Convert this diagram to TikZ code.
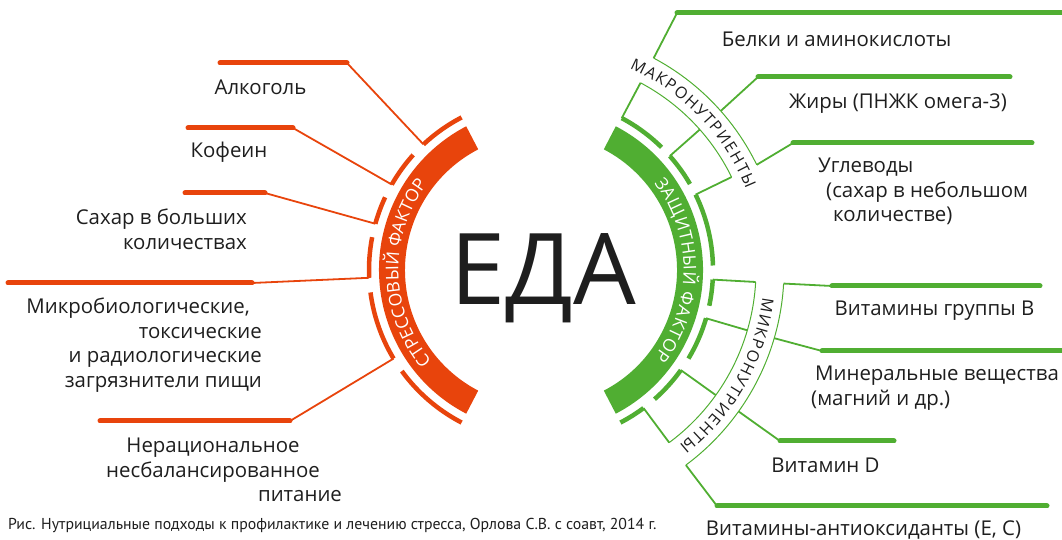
\documentclass[tikz,border=0pt]{standalone}
\usepackage{fontspec}
\setmainfont{Open Sans}
\newfontfamily\capfont{PT Sans}
\usetikzlibrary{decorations.text}

\definecolor{stressred}{RGB}{232,68,12}
\definecolor{foodgreen}{RGB}{80,174,50}
\definecolor{inkgray}{RGB}{30,30,30}

\tikzset{
	foodtext/.style={inner sep=0pt,text=inkgray,font=\fontsize{20.4}{24.6}\selectfont},
	redbar/.style={stressred,line width=5pt,line cap=round},
	greenbar/.style={foodgreen,line width=5pt,line cap=round},
	redlink/.style={stressred,line width=1.8pt},
	greenlink/.style={foodgreen,line width=1.8pt},
	redseg/.style={stressred,line width=4.5pt},
	greenseg/.style={foodgreen,line width=4.5pt},
	bracketarc/.style={foodgreen,line width=1pt},
}

\begin{document}
\begin{tikzpicture}[x=1pt,y=1pt]
	\useasboundingbox (0,0) rectangle (1062,540);
	\coordinate (C) at (541,270);

	% thick bands
	\fill[stressred] ([shift={(117.5:136pt)}]C) arc[start angle=117.5,end angle=242.5,radius=136pt] -- ([shift={(242.5:162pt)}]C) arc[start angle=242.5,end angle=117.5,radius=162pt] -- cycle;
	\fill[foodgreen] ([shift={(-62.5:136pt)}]C) arc[start angle=-62.5,end angle=62.5,radius=136pt] -- ([shift={(62.5:162pt)}]C) arc[start angle=62.5,end angle=-62.5,radius=162pt] -- cycle;

	\path[decorate,decoration={text along path,text color=white,text align={fit to path},text={|\fontsize{17.5}{17.5}\selectfont|СТРЕССОВЫЙ ФАКТОР}}] ([shift={(220:142.6pt)}]C) arc[start angle=220,end angle=143,radius=142.6pt];
	\path[decorate,decoration={text along path,text color=white,text align={fit to path},text={|\fontsize{17.5}{17.5}\selectfont|ЗАЩИТНЫЙ ФАКТОР}}] ([shift={(37.5:142.6pt)}]C) arc[start angle=37.5,end angle=-37.5,radius=142.6pt];

	\node[inner sep=0pt,anchor=base,text=inkgray,font=\fontsize{99}{99}\selectfont] (eda) at (543,235) {ЕДА};

	% red side
	\draw[redseg] ([shift={(117.5:172pt)}]C) arc[start angle=117.5,end angle=133.1,radius=172pt];
	\draw[redseg] ([shift={(138:172pt)}]C) arc[start angle=138,end angle=150.2,radius=172pt];
	\draw[redseg] ([shift={(155:172pt)}]C) arc[start angle=155,end angle=164.4,radius=172pt];
	\draw[redseg] ([shift={(169:172pt)}]C) arc[start angle=169,end angle=182.6,radius=172pt];
	\draw[redseg] ([shift={(187.5:172pt)}]C) arc[start angle=187.5,end angle=211,radius=172pt];
	\draw[redseg] ([shift={(216:172pt)}]C) arc[start angle=216,end angle=242.5,radius=172pt];

	\coordinate (ra) at ([shift={(133.1:172pt)}]C);
	\coordinate (rb) at ([shift={(150.2:172pt)}]C);
	\coordinate (rc) at ([shift={(164.4:172pt)}]C);
	\coordinate (rd) at ([shift={(182.6:172pt)}]C);
	\coordinate (re) at ([shift={(211:172pt)}]C);

	\coordinate (ba) at (347,477);
	\coordinate (bb) at (293,412);
	\coordinate (bc) at (265,347);
	\coordinate (bd) at (252,257);
	\coordinate (be) at (290,119);

	\coordinate (la) at (220,477);
	\coordinate (lb) at (188,412);
	\coordinate (lc) at (185,347);
	\coordinate (ld) at (8,257);
	\coordinate (le) at (100,119);

	\draw[redlink] (ra) -- (ba);
	\draw[redlink] (rb) -- (bb);
	\draw[redlink] (rc) -- (bc);
	\draw[redlink] (rd) -- (bd);
	\draw[redlink] (re) -- (be);

	\draw[redbar] (ba) -- (la);
	\draw[redbar] (bb) -- (lb);
	\draw[redbar] (bc) -- (lc);
	\draw[redbar] (bd) -- (ld);
	\draw[redbar] (be) -- (le);

	\node[foodtext] (alk) at (260.5,453) {Алкоголь};
	\node[foodtext] (kof) at (229,388) {Кофеин};
	\node[foodtext,align=right,anchor=east] (sah) at (247,311) {Сахар в больших\\количествах};
	\node[foodtext,align=right,anchor=east] (mic) at (262,195) {Микробиологические,\hspace*{12pt}\\токсические\hspace*{14pt}\\и радиологические\hspace*{7pt}\\загрязнители пищи};
	\node[foodtext,align=center] (ner) at (213,70) {Нерациональное\\несбалансированное\\\hspace*{174pt}питание};

	% green side
	\draw[greenseg] ([shift={(45.5:172pt)}]C) arc[start angle=45.5,end angle=62,radius=172pt];
	\draw[greenseg] ([shift={(30:172pt)}]C) arc[start angle=30,end angle=41.5,radius=172pt];
	\draw[greenseg] ([shift={(1.5:172pt)}]C) arc[start angle=1.5,end angle=26,radius=172pt];
	\draw[greenseg] ([shift={(-12:172pt)}]C) arc[start angle=-12,end angle=-3.2,radius=172pt];
	\draw[greenseg] ([shift={(-31:172pt)}]C) arc[start angle=-31,end angle=-16.3,radius=172pt];
	\draw[greenseg] ([shift={(-48.7:172pt)}]C) arc[start angle=-48.7,end angle=-35.6,radius=172pt];
	\draw[greenseg] ([shift={(-62.5:172pt)}]C) arc[start angle=-62.5,end angle=-53.4,radius=172pt];

	% brackets
	\draw[bracketarc] ([shift={(62:212pt)}]C) arc[start angle=62,end angle=26,radius=212pt];
	\draw[bracketarc] ([shift={(62:240pt)}]C) arc[start angle=62,end angle=26,radius=240pt];
	\draw[bracketarc] ([shift={(-3.2:215pt)}]C) arc[start angle=-3.2,end angle=-53.4,radius=215pt];
	\draw[bracketarc] ([shift={(-3.2:243pt)}]C) arc[start angle=-3.2,end angle=-53.4,radius=243pt];

	\path[decorate,decoration={text along path,text color=inkgray,text align={fit to path},text={|\fontsize{16}{16}\selectfont|МАКРОНУТРИЕНТЫ}}] ([shift={(66.3:220.3pt)}]C) arc[start angle=66.3,end angle=21.6,radius=220.3pt];
	\path[decorate,decoration={text along path,text color=inkgray,text align={fit to path},text={|\fontsize{16}{16}\selectfont|МИКРОНУТРИЕНТЫ}}] ([shift={(-7.1:223.3pt)}]C) arc[start angle=-7.1,end angle=-51.8,radius=223.3pt];

	\coordinate (p1) at ([shift={(62:172pt)}]C);
	\coordinate (p2) at ([shift={(41.5:172pt)}]C);
	\coordinate (p3) at ([shift={(26:172pt)}]C);
	\coordinate (p4) at ([shift={(-3.2:172pt)}]C);
	\coordinate (p5) at ([shift={(-16.3:172pt)}]C);
	\coordinate (p6) at ([shift={(-35.6:172pt)}]C);
	\coordinate (p7) at ([shift={(-53.4:172pt)}]C);

	\coordinate (q1) at ([shift={(62:212pt)}]C);
	\coordinate (q2) at ([shift={(41.5:212pt)}]C);
	\coordinate (q3) at ([shift={(26:212pt)}]C);
	\coordinate (q4) at ([shift={(-3.2:215pt)}]C);
	\coordinate (q5) at ([shift={(-16.3:215pt)}]C);
	\coordinate (q6) at ([shift={(-35.6:215pt)}]C);
	\coordinate (q7) at ([shift={(-53.4:215pt)}]C);

	\coordinate (o1) at ([shift={(62:240pt)}]C);
	\coordinate (o2) at ([shift={(41.5:240pt)}]C);
	\coordinate (o3) at ([shift={(26:240pt)}]C);
	\coordinate (o4) at ([shift={(-3.2:243pt)}]C);
	\coordinate (o5) at ([shift={(-16.3:243pt)}]C);
	\coordinate (o6) at ([shift={(-35.6:243pt)}]C);
	\coordinate (o7) at ([shift={(-53.4:243pt)}]C);

	\coordinate (g1) at (677,527);
	\coordinate (g2) at (758,463);
	\coordinate (g3) at (793,397);
	\coordinate (g4) at (832,254);
	\coordinate (g5) at (822,189);
	\coordinate (g6) at (780,99);
	\coordinate (g7) at (717,34);

	\coordinate (h1) at (1062,527);
	\coordinate (h2) at (1010,463);
	\coordinate (h3) at (1032,397);
	\coordinate (h4) at (1040,254);
	\coordinate (h5) at (1062,189);
	\coordinate (h6) at (894,99);
	\coordinate (h7) at (1047,34);

	\draw[greenlink] (p1) -- (q1);
	\draw[greenlink] (p2) -- (q2);
	\draw[greenlink] (p3) -- (q3);
	\draw[greenlink] (p4) -- (q4);
	\draw[greenlink] (p5) -- (q5);
	\draw[greenlink] (p6) -- (q6);
	\draw[greenlink] (p7) -- (q7);

	\draw[greenlink] (o1) -- (g1);
	\draw[greenlink] (o2) -- (g2);
	\draw[greenlink] (o3) -- (g3);
	\draw[greenlink] (o4) -- (g4);
	\draw[greenlink] (o5) -- (g5);
	\draw[greenlink] (o6) -- (g6);
	\draw[greenlink] (o7) -- (g7);

	\draw[greenbar] (g1) -- (h1);
	\draw[greenbar] (g2) -- (h2);
	\draw[greenbar] (g3) -- (h3);
	\draw[greenbar] (g4) -- (h4);
	\draw[greenbar] (g5) -- (h5);
	\draw[greenbar] (g6) -- (h6);
	\draw[greenbar] (g7) -- (h7);

	\node[foodtext] (bel) at (836.5,501) {Белки и аминокислоты};
	\node[foodtext] (zhi) at (898,436) {Жиры (ПНЖК омега-3)};
	\node[foodtext,align=left,anchor=west] (ugl) at (818,348.5) {Углеводы\\\hspace*{8pt}(сахар в небольшом\\\hspace*{15pt}количестве)};
	\node[foodtext] (vitb) at (934.5,229) {Витамины группы B};
	\node[foodtext,align=left,anchor=west] (miner) at (811,152) {\hspace*{4pt}Минеральные вещества\\(магний и др.)};
	\node[foodtext] (vitd) at (825.5,75) {Витамин D};
	\node[foodtext] (antiox) at (863.5,10) {Витамины-антиоксиданты (E, C)};

	\node[inner sep=0pt,anchor=west,text=inkgray,font=\capfont\fontsize{15.8}{15.8}\selectfont] (caption) at (8,15) {Рис. Нутрициальные подходы к профилактике и лечению стресса, Орлова С.В. с соавт, 2014 г.};
\end{tikzpicture}
\end{document}
